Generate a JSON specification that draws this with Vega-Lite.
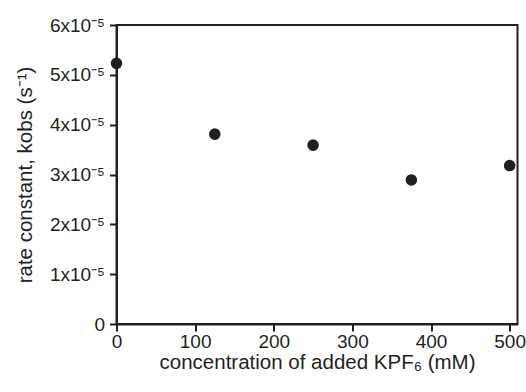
{
  "$schema": "https://vega.github.io/schema/vega-lite/v6.json",
  "width": 401,
  "height": 299,
  "autosize": {"type": "none"},
  "padding": {"left": 116.5, "top": 25, "right": 8.5, "bottom": 68},
  "background": "white",
  "config": {
    "view": {"stroke": "#231f20", "strokeWidth": 2},
    "font": "Liberation Sans",
    "axis": {
      "grid": false,
      "domainColor": "#231f20",
      "domainWidth": 2,
      "tickColor": "#231f20",
      "tickWidth": 2,
      "tickSize": 7,
      "labelFont": "Liberation Sans",
      "labelFontSize": 19,
      "labelColor": "#231f20",
      "titleFont": "Liberation Sans",
      "titleFontSize": 20.5,
      "titleFontWeight": "normal",
      "titleColor": "#231f20"
    }
  },
  "data": {
    "values": [
      {"conc": 0, "k": 5.23e-5},
      {"conc": 125, "k": 3.81e-5},
      {"conc": 250, "k": 3.59e-5},
      {"conc": 375, "k": 2.89e-5},
      {"conc": 500, "k": 3.18e-5}
    ]
  },
  "mark": {"type": "point", "filled": true, "size": 135, "color": "#231f20", "opacity": 1, "clip": false},
  "encoding": {
    "x": {
      "field": "conc",
      "type": "quantitative",
      "scale": {"domain": [0, 510], "nice": false, "zero": false},
      "axis": {
        "values": [0, 100, 200, 300, 400, 500],
        "title": "concentration of added KPF₆ (mM)",
        "labelPadding": 1,
        "titlePadding": 1,
        "labelFlush": false
      }
    },
    "y": {
      "field": "k",
      "type": "quantitative",
      "scale": {"domain": [0, 6e-5], "nice": false},
      "axis": {
        "values": [0, 1e-5, 2e-5, 3e-5, 4e-5, 5e-5, 6e-5],
        "labelExpr": "datum.value == 0 ? '0' : round(datum.value * 1e5) + 'x10⁻⁵'",
        "title": "rate constant, kobs (s⁻¹)",
        "labelPadding": 5,
        "titlePadding": 14,
        "labelFlush": false
      }
    }
  }
}
